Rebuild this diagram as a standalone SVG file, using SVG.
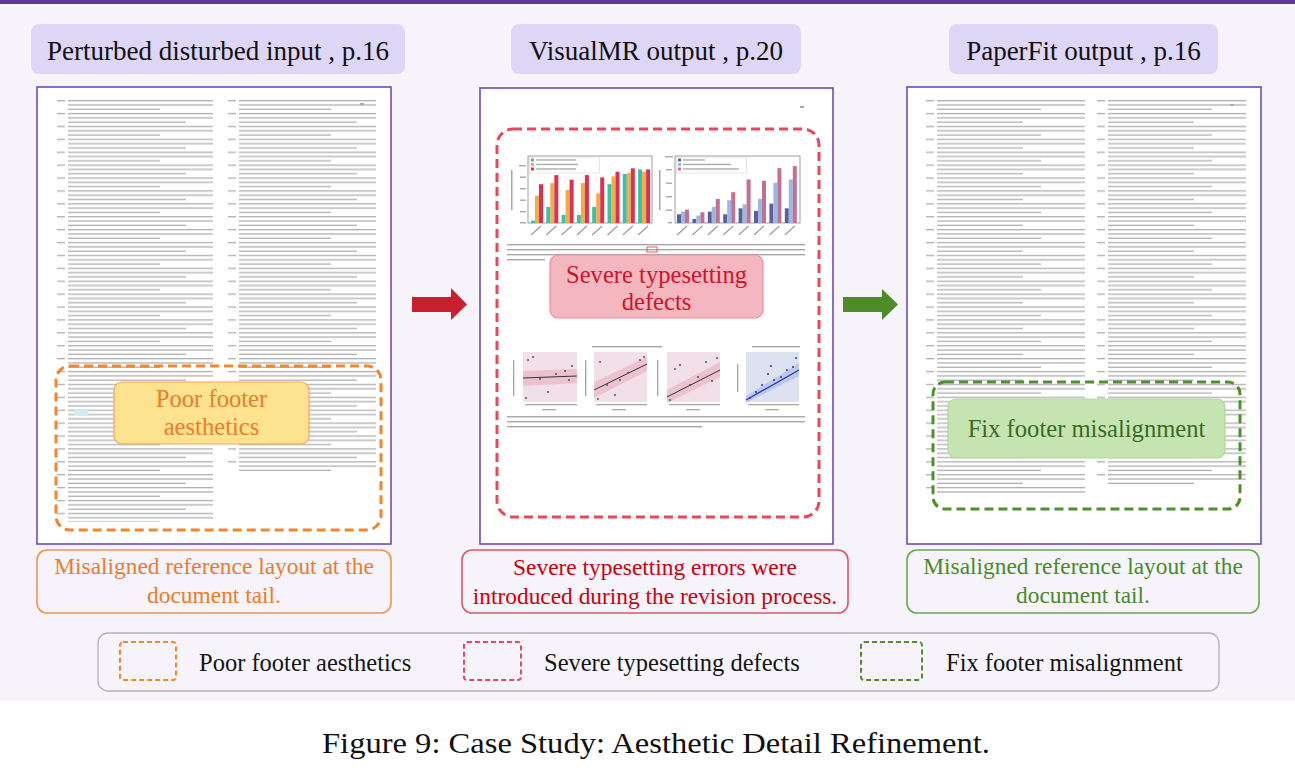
<svg xmlns="http://www.w3.org/2000/svg" width="1295" height="780" viewBox="0 0 1295 780" font-family="Liberation Serif, Times New Roman, serif">
<defs>
<style>
text{font-family:"Liberation Serif","Times New Roman",serif}
.pill{fill:#ddd6f7}
.ttl{font-size:27px;fill:#111;text-anchor:middle}
.page{fill:#fff;stroke:#6a4bbf;stroke-width:1.6}
.cap{font-size:23.4px;text-anchor:middle}
.lbl{font-size:24.6px;text-anchor:middle}
.leg{font-size:24.5px;fill:#151515}
.gl{fill:#a8a8a8}
.dk{stroke:#999;stroke-width:1.1;fill:none}
.dot{fill:#555}
.bdot{fill:#2a36a8}
</style>
<pattern id="refL" x="57" y="99" width="171" height="25.8" patternUnits="userSpaceOnUse">
  <g fill="#b0b0b0">
    <rect x="0" y="1" width="8" height="1.3"/><rect x="11" y="1" width="145" height="1.3"/>
    <rect x="11" y="5.3" width="145" height="1.3"/>
    <rect x="11" y="9.6" width="92" height="1.3"/>
    <rect x="0" y="13.9" width="8" height="1.3"/><rect x="11" y="13.9" width="145" height="1.3"/>
    <rect x="11" y="18.2" width="145" height="1.3"/>
    <rect x="11" y="22.5" width="118" height="1.3"/>
  </g>
</pattern>
<pattern id="refR" x="926" y="99" width="171" height="25.8" patternUnits="userSpaceOnUse">
  <g fill="#b0b0b0">
    <rect x="0" y="1" width="8" height="1.3"/><rect x="11" y="1" width="148" height="1.3"/>
    <rect x="11" y="5.3" width="148" height="1.3"/>
    <rect x="11" y="9.6" width="104" height="1.3"/>
    <rect x="0" y="13.9" width="8" height="1.3"/><rect x="11" y="13.9" width="148" height="1.3"/>
    <rect x="11" y="18.2" width="148" height="1.3"/>
    <rect x="11" y="22.5" width="86" height="1.3"/>
  </g>
</pattern>
</defs>

<rect x="0" y="0" width="1295" height="780" fill="#ffffff"/>
<rect x="0" y="0" width="1295" height="701" fill="#f6f4fa"/>
<rect x="0" y="0" width="1295" height="4" fill="#5b3799"/>

<!-- Panel 1: perturbed input -->
<g id="panel-input">
  <rect class="pill" x="31" y="24" width="374" height="50" rx="8"/>
  <text class="ttl" x="218" y="60" font-family="Liberation Serif, serif">Perturbed disturbed input , p.16</text>
  <rect class="page" x="37" y="87" width="354" height="457"/>
  <rect class="gl" x="360" y="103" width="4" height="2"/>
  <rect x="57" y="99" width="156" height="423" fill="url(#refL)"/>
  <rect x="228" y="99" width="148" height="372" fill="url(#refL)"/>
  <rect x="74" y="410" width="14" height="5" fill="#cdeef3"/>
</g>

<g id="defect-input">
  <rect x="56" y="366" width="325" height="164" rx="14" fill="none" stroke="#f0872e" stroke-width="3" stroke-dasharray="9 5"/>
  <rect x="114" y="382" width="195" height="62" rx="8" fill="#fde28f" stroke="#f2a65e" stroke-width="1.2"/>
  <text class="lbl" x="211.5" y="407" fill="#eb7d2a" font-family="Liberation Serif, serif">Poor footer</text>
  <text class="lbl" x="211.5" y="435" fill="#eb7d2a" font-family="Liberation Serif, serif">aesthetics</text>
</g>

<g id="caption-input">
  <rect x="37" y="550" width="354" height="63" rx="10" fill="#f6f4fa" stroke="#f0944a" stroke-width="1.6"/>
  <text class="cap" x="214" y="574" fill="#eb7d2a" font-family="Liberation Serif, serif">Misaligned reference layout at the</text>
  <text class="cap" x="214" y="603" fill="#eb7d2a" font-family="Liberation Serif, serif">document tail.</text>
</g>

<!-- Panel 2: VisualMR output -->
<g id="panel-visualmr">
  <rect class="pill" x="511" y="24" width="290" height="50" rx="8"/>
  <text class="ttl" x="656" y="60" font-family="Liberation Serif, serif">VisualMR output , p.20</text>
  <rect class="page" x="480" y="88" width="353" height="456"/>
  <rect class="gl" x="800" y="106" width="4" height="2"/>

  <!-- left bar chart -->
  <rect x="528" y="156" width="124" height="67" fill="#fff" stroke="#777" stroke-width="0.7"/>
  <g>
    <rect x="531" y="220.7" width="4" height="2.3" fill="#3bbfa6"/>
    <rect x="546.3" y="207" width="4" height="16" fill="#3bbfa6"/>
    <rect x="561.6" y="215" width="4" height="8" fill="#3bbfa6"/>
    <rect x="576.9" y="215" width="4" height="8" fill="#3bbfa6"/>
    <rect x="592.2" y="207" width="4" height="16" fill="#3bbfa6"/>
    <rect x="607.5" y="184.2" width="4" height="38.8" fill="#3bbfa6"/>
    <rect x="622.8" y="174" width="4" height="49" fill="#3bbfa6"/>
    <rect x="638.1" y="169.4" width="4" height="53.6" fill="#3bbfa6"/>
    <rect x="535" y="195.6" width="4" height="27.4" fill="#e9b04c"/>
    <rect x="550.3" y="183.1" width="4" height="39.9" fill="#e9b04c"/>
    <rect x="565.6" y="189.9" width="4" height="33.1" fill="#e9b04c"/>
    <rect x="580.9" y="183.1" width="4" height="39.9" fill="#e9b04c"/>
    <rect x="596.2" y="193.4" width="4" height="29.6" fill="#e9b04c"/>
    <rect x="611.5" y="176.3" width="4" height="46.7" fill="#e9b04c"/>
    <rect x="626.8" y="172.8" width="4" height="50.2" fill="#e9b04c"/>
    <rect x="642.1" y="171.7" width="4" height="51.3" fill="#e9b04c"/>
    <rect x="539" y="184.2" width="4" height="38.8" fill="#e0304f"/>
    <rect x="554.3" y="175.1" width="4" height="47.9" fill="#e0304f"/>
    <rect x="569.6" y="179.7" width="4" height="43.3" fill="#e0304f"/>
    <rect x="584.9" y="175.1" width="4" height="47.9" fill="#e0304f"/>
    <rect x="600.2" y="177.4" width="4" height="45.6" fill="#e0304f"/>
    <rect x="615.5" y="171.7" width="4" height="51.3" fill="#e0304f"/>
    <rect x="630.8" y="168.3" width="4" height="54.7" fill="#e0304f"/>
    <rect x="646.1" y="169.4" width="4" height="53.6" fill="#e0304f"/>
  </g>
  <rect x="529.5" y="157" width="70" height="16" fill="#fff" fill-opacity="0.85" stroke="#ccc" stroke-width="0.5"/>
  <rect x="531" y="158.5" width="3" height="3" fill="#3bbfa6"/>
  <rect x="531" y="163" width="3" height="3" fill="#e9b04c"/>
  <rect x="531" y="167.5" width="3" height="3" fill="#e0304f"/>
  <rect class="gl" x="536" y="159.3" width="40" height="1.3"/>
  <rect class="gl" x="536" y="163.8" width="42" height="1.3"/>
  <rect class="gl" x="536" y="168.3" width="40" height="1.3"/>
  <g class="gl">
    <rect x="519" y="165" width="7" height="1.4"/><rect x="520" y="176.5" width="6" height="1.4"/><rect x="520" y="188" width="6" height="1.4"/><rect x="520" y="199.5" width="6" height="1.4"/><rect x="520" y="211" width="6" height="1.4"/><rect x="520" y="222" width="6" height="1.4"/>
    <rect x="511" y="170" width="1.5" height="40"/>
  </g>
  <path class="dk" d="M541 226 L531 235 M556.3 226 L546.3 235 M571.6 226 L561.6 235 M586.9 226 L576.9 235 M602.2 226 L592.2 235 M617.5 226 L607.5 235 M632.8 226 L622.8 235 M648.1 226 L638.1 235"/>

  <!-- right bar chart -->
  <rect x="675" y="156" width="125" height="67" fill="#fff" stroke="#777" stroke-width="0.7"/>
  <g>
    <rect x="677" y="214.3" width="4" height="8.7" fill="#5c5f9c"/>
    <rect x="692.4" y="219" width="4" height="4" fill="#5c5f9c"/>
    <rect x="707.8" y="211.6" width="4" height="11.4" fill="#5c5f9c"/>
    <rect x="723.2" y="214.3" width="4" height="8.7" fill="#5c5f9c"/>
    <rect x="738.6" y="208.3" width="4" height="14.7" fill="#5c5f9c"/>
    <rect x="754" y="210.9" width="4" height="12.1" fill="#5c5f9c"/>
    <rect x="769.4" y="203.6" width="4" height="19.4" fill="#5c5f9c"/>
    <rect x="784.8" y="208.3" width="4" height="14.7" fill="#5c5f9c"/>
    <rect x="681" y="211.6" width="4" height="11.4" fill="#9bb9e0"/>
    <rect x="696.4" y="215.6" width="4" height="7.4" fill="#9bb9e0"/>
    <rect x="711.8" y="206.9" width="4" height="16.1" fill="#9bb9e0"/>
    <rect x="727.2" y="200.2" width="4" height="22.8" fill="#9bb9e0"/>
    <rect x="742.6" y="204.2" width="4" height="18.8" fill="#9bb9e0"/>
    <rect x="758" y="198.9" width="4" height="24.1" fill="#9bb9e0"/>
    <rect x="773.4" y="182.8" width="4" height="40.2" fill="#9bb9e0"/>
    <rect x="788.8" y="179.4" width="4" height="43.6" fill="#9bb9e0"/>
    <rect x="685" y="209.6" width="4" height="13.4" fill="#c46f94"/>
    <rect x="700.4" y="212.3" width="4" height="10.7" fill="#c46f94"/>
    <rect x="715.8" y="198.9" width="4" height="24.1" fill="#c46f94"/>
    <rect x="731.2" y="192.2" width="4" height="30.8" fill="#c46f94"/>
    <rect x="746.6" y="179.4" width="4" height="43.6" fill="#c46f94"/>
    <rect x="762" y="180.8" width="4" height="42.2" fill="#c46f94"/>
    <rect x="777.4" y="168.1" width="4" height="54.9" fill="#c46f94"/>
    <rect x="792.8" y="166.1" width="4" height="56.9" fill="#c46f94"/>
  </g>
  <rect x="676.5" y="157" width="70" height="16" fill="#fff" fill-opacity="0.85" stroke="#ccc" stroke-width="0.5"/>
  <rect x="678" y="158.5" width="3" height="3" fill="#5c5f9c"/>
  <rect x="678" y="163" width="3" height="3" fill="#9bb9e0"/>
  <rect x="678" y="167.5" width="3" height="3" fill="#c46f94"/>
  <rect class="gl" x="683" y="159.3" width="22" height="1.3"/>
  <rect class="gl" x="683" y="163.8" width="48" height="1.3"/>
  <rect class="gl" x="683" y="168.3" width="56" height="1.3"/>
  <g class="gl">
    <rect x="665" y="156" width="8" height="1.4"/><rect x="666" y="169" width="6" height="1.4"/><rect x="666" y="182.5" width="6" height="1.4"/><rect x="666" y="196" width="6" height="1.4"/><rect x="666" y="209.5" width="6" height="1.4"/><rect x="668" y="222" width="4" height="1.4"/>
    <rect x="659" y="170" width="1.5" height="40"/>
  </g>
  <path class="dk" d="M687 226 L677 235 M702.4 226 L692.4 235 M717.8 226 L707.8 235 M733.2 226 L723.2 235 M748.6 226 L738.6 235 M764 226 L754 235 M779.4 226 L769.4 235 M794.8 226 L784.8 235"/>

  <!-- fig 15 caption -->
  <g class="gl">
    <rect x="507" y="244" width="298" height="1.4"/>
    <rect x="507" y="249" width="298" height="1.4"/>
    <rect x="507" y="254" width="298" height="1.4"/>
    <rect x="507" y="259" width="38" height="1.4"/>
  </g>
  <rect x="647" y="247" width="10" height="5" fill="none" stroke="#e0304f" stroke-width="0.8"/>

  <!-- scatter plots -->
  <g class="gl">
    <rect x="592" y="346" width="70" height="1.4"/>
    <rect x="752" y="346" width="48" height="1.4"/>
  </g>
  <rect x="523" y="352" width="54" height="50" fill="#f1e0e8"/>
  <polygon points="523,371 577,369 577,383 523,386" fill="#e7a8bc" fill-opacity="0.55"/>
  <line x1="523" y1="378" x2="577" y2="376" stroke="#333" stroke-width="1"/>
  <g class="dot"><circle cx="528" cy="360" r="1"/><circle cx="533" cy="357" r="1"/><circle cx="540" cy="379" r="1"/><circle cx="548" cy="392" r="1"/><circle cx="556" cy="374" r="1"/><circle cx="565" cy="371" r="1"/><circle cx="572" cy="366" r="1"/><circle cx="569" cy="380" r="1"/><circle cx="526" cy="398" r="1"/></g>
  <rect x="594" y="352" width="53" height="50" fill="#f1e0e8"/>
  <polygon points="594,382 647,357 647,371 594,398" fill="#e7a8bc" fill-opacity="0.55"/>
  <line x1="594" y1="390" x2="647" y2="364" stroke="#333" stroke-width="1"/>
  <g class="dot"><circle cx="600" cy="362" r="1"/><circle cx="607" cy="385" r="1"/><circle cx="620" cy="380" r="1"/><circle cx="628" cy="373" r="1"/><circle cx="640" cy="360" r="1"/><circle cx="644" cy="357" r="1"/><circle cx="615" cy="395" r="1"/><circle cx="598" cy="399" r="1"/></g>
  <rect x="667" y="352" width="53" height="50" fill="#f1e0e8"/>
  <polygon points="667,390 720,362 720,377 667,403" fill="#e7a8bc" fill-opacity="0.55"/>
  <line x1="667" y1="397" x2="720" y2="370" stroke="#333" stroke-width="1"/>
  <g class="dot"><circle cx="675" cy="369" r="1"/><circle cx="680" cy="365" r="1"/><circle cx="690" cy="385" r="1"/><circle cx="698" cy="377" r="1"/><circle cx="706" cy="362" r="1"/><circle cx="712" cy="381" r="1"/><circle cx="717" cy="358" r="1"/><circle cx="670" cy="400" r="1"/></g>
  <rect x="746" y="352" width="53" height="50" fill="#dde2f0"/>
  <polygon points="746,396 799,363 799,376 746,403" fill="#a9b6e6" fill-opacity="0.6"/>
  <line x1="746" y1="400" x2="799" y2="370" stroke="#2a36a8" stroke-width="1.2"/>
  <g class="bdot"><circle cx="750" cy="398" r="1"/><circle cx="756" cy="392" r="1"/><circle cx="762" cy="385" r="1"/><circle cx="768" cy="374" r="1"/><circle cx="774" cy="380" r="1"/><circle cx="781" cy="377" r="1"/><circle cx="787" cy="370" r="1"/><circle cx="793" cy="367" r="1"/><circle cx="796" cy="358" r="1"/><circle cx="771" cy="366" r="1"/></g>
  <g class="gl">
    <rect x="513" y="360" width="1.4" height="36"/><rect x="585" y="360" width="1.4" height="36"/><rect x="657" y="360" width="1.4" height="36"/><rect x="737" y="364" width="1.4" height="28"/>
    <rect x="525" y="404" width="52" height="1.3"/><rect x="596" y="404" width="51" height="1.3"/><rect x="669" y="404" width="51" height="1.3"/><rect x="748" y="404" width="51" height="1.3"/>
    <rect x="542" y="409" width="14" height="1.3"/><rect x="612" y="409" width="14" height="1.3"/><rect x="686" y="409" width="14" height="1.3"/><rect x="765" y="409" width="14" height="1.3"/>
    <rect x="507" y="416" width="298" height="1.4"/>
    <rect x="507" y="421" width="298" height="1.4"/>
    <rect x="507" y="426" width="195" height="1.4"/>
  </g>
</g>

<g id="defect-visualmr">
  <rect x="497" y="129" width="322" height="388" rx="16" fill="none" stroke="#e8475f" stroke-width="3" stroke-dasharray="9 5"/>
  <rect x="550" y="255" width="213" height="63" rx="8" fill="#f4b6bf" stroke="#ef8e9a" stroke-width="1.2"/>
  <text class="lbl" x="656.5" y="283" fill="#d0142a" font-family="Liberation Serif, serif">Severe typesetting</text>
  <text class="lbl" x="656.5" y="310" fill="#d0142a" font-family="Liberation Serif, serif">defects</text>
</g>

<g id="caption-visualmr">
  <rect x="462" y="550" width="386" height="63" rx="10" fill="#f6f4fa" stroke="#e0566a" stroke-width="1.6"/>
  <text class="cap" x="655" y="575" fill="#cc0010" font-family="Liberation Serif, serif">Severe typesetting errors were</text>
  <text class="cap" x="655" y="604" fill="#cc0010" font-family="Liberation Serif, serif">introduced during the revision process.</text>
</g>

<!-- Panel 3: PaperFit output -->
<g id="panel-paperfit">
  <rect class="pill" x="949" y="24" width="269" height="50" rx="8"/>
  <text class="ttl" x="1083.5" y="60" font-family="Liberation Serif, serif">PaperFit output , p.16</text>
  <rect class="page" x="907" y="87" width="354" height="457"/>
  <rect class="gl" x="1230" y="104" width="4" height="2"/>
  <rect x="926" y="99" width="159" height="394" fill="url(#refR)"/>
  <rect x="1097" y="99" width="149" height="387" fill="url(#refR)"/>
</g>

<g id="fix-paperfit">
  <rect x="933" y="382" width="307" height="127" rx="12" fill="none" stroke="#4f8f2e" stroke-width="3" stroke-dasharray="9 5"/>
  <rect x="948" y="399" width="277" height="59" rx="8" fill="#c6e4b2" stroke="#b2d79c" stroke-width="1.2"/>
  <text class="lbl" x="1086.5" y="437" fill="#3b6a24" font-family="Liberation Serif, serif">Fix footer misalignment</text>
</g>

<g id="caption-paperfit">
  <rect x="907" y="550" width="352" height="63" rx="10" fill="#f6f4fa" stroke="#6aa84f" stroke-width="1.6"/>
  <text class="cap" x="1083" y="574" fill="#4a8a2a" font-family="Liberation Serif, serif">Misaligned reference layout at the</text>
  <text class="cap" x="1083" y="603" fill="#4a8a2a" font-family="Liberation Serif, serif">document tail.</text>
</g>

<!-- connectors -->
<g id="connectors">
  <polygon points="412,297 451,297 451,288 467,304.5 451,320 451,312 412,312" fill="#c8202f"/>
  <polygon points="843,297 882,297 882,289 898,304.5 882,320 882,312 843,312" fill="#4e8c2a"/>
</g>

<!-- legend -->
<g id="legend">
  <rect x="98" y="633" width="1121" height="58" rx="10" fill="#f6f4fa" stroke="#b3b3b3" stroke-width="1.3"/>
  <rect x="120" y="642" width="56" height="38" rx="3" fill="none" stroke="#f0872e" stroke-width="2" stroke-dasharray="5 3"/>
  <text class="leg" x="199" y="671" font-family="Liberation Serif, serif">Poor footer aesthetics</text>
  <rect x="464" y="642" width="57" height="38" rx="3" fill="none" stroke="#e8475f" stroke-width="2" stroke-dasharray="5 3"/>
  <text class="leg" x="544" y="671" font-family="Liberation Serif, serif">Severe typesetting defects</text>
  <rect x="861" y="642" width="61" height="38" rx="3" fill="none" stroke="#4f8f2e" stroke-width="2" stroke-dasharray="5 3"/>
  <text class="leg" x="946" y="671" font-family="Liberation Serif, serif">Fix footer misalignment</text>
</g>

<text x="656" y="753" font-size="30" fill="#111" text-anchor="middle" textLength="668" lengthAdjust="spacingAndGlyphs" font-family="Liberation Serif, serif">Figure 9: Case Study: Aesthetic Detail Refinement.</text>
</svg>
